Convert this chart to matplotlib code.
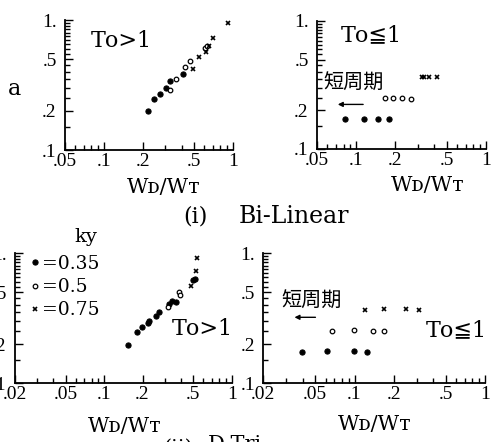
import matplotlib
matplotlib.use("Agg")
import matplotlib.pyplot as plt
from matplotlib.ticker import FixedLocator, FixedFormatter, NullFormatter

# ky legend labels
ky_labels = ["=0.35", "=0.5", "=0.75"]

# (i) Bi-Linear, To > 1
bl_long_x = [
    [0.218, 0.246, 0.272, 0.301, 0.325, 0.41],
    [0.325, 0.362, 0.427, 0.465, 0.607, 0.632],
    [0.488, 0.548, 0.618, 0.656, 0.705, 0.91],
]
bl_long_y = [
    [0.200, 0.248, 0.268, 0.298, 0.340, 0.382],
    [0.288, 0.352, 0.435, 0.484, 0.606, 0.631],
    [0.418, 0.522, 0.570, 0.631, 0.723, 0.944],
]

# (i) Bi-Linear, To <= 1
bl_short_x = [
    [0.0826, 0.1156, 0.1465, 0.178],
    [0.166, 0.191, 0.225, 0.265],
    [0.320, 0.332, 0.366, 0.417],
]
bl_short_y = [
    [0.171, 0.173, 0.173, 0.173],
    [0.250, 0.252, 0.251, 0.248],
    [0.362, 0.368, 0.366, 0.364],
]

# (ii) D-Tri, To > 1
dt_long_x = [
    [0.155, 0.180, 0.197, 0.220, 0.225, 0.254, 0.271, 0.324, 0.340, 0.364, 0.500, 0.519],
    [0.315, 0.389, 0.394],
    [0.480, 0.522, 0.538],
]
dt_long_y = [
    [0.198, 0.247, 0.269, 0.288, 0.300, 0.328, 0.350, 0.406, 0.430, 0.422, 0.620, 0.631],
    [0.385, 0.504, 0.475],
    [0.557, 0.726, 0.908],
]

# (ii) D-Tri, To <= 1
dt_short_x = [
    [0.0398, 0.0618, 0.0995, 0.124],
    [0.0668, 0.0995, 0.138, 0.169],
    [0.121, 0.169, 0.247, 0.310],
]
dt_short_y = [
    [0.174, 0.176, 0.176, 0.174],
    [0.252, 0.256, 0.253, 0.252],
    [0.366, 0.370, 0.370, 0.366],
]

x_ticks_a = [0.05, 0.1, 0.2, 0.5, 1.0]
x_labels_a = [".05", ".1", ".2", ".5", "1"]
x_ticks_b = [0.02, 0.05, 0.1, 0.2, 0.5, 1.0]
x_labels_b = [".02", ".05", ".1", ".2", ".5", "1"]
y_ticks = [0.1, 0.2, 0.5, 1.0]
y_labels = [".1", ".2", ".5", "1."]

SERIF = ["DejaVu Serif", "DejaVu Sans", "Noto Sans CJK JP"]
TIMES = ["Liberation Serif", "DejaVu Serif"]
CJK = ["Noto Sans CJK JP", "DejaVu Sans"]
STYLES = [
    dict(marker="o", ms=3.7, mfc="black", mec="black", mew=0.8),
    dict(marker="o", ms=3.3, mfc="white", mec="black", mew=0.9),
    dict(marker="x", ms=3.0, mfc="none", mec="black", mew=1.2),
]

plt.rcParams["font.family"] = SERIF

fig = plt.figure(figsize=(4.93, 4.42), dpi=100)


def make_axes(rect, xmin, xticks, xlabels):
    ax = fig.add_axes(rect)
    ax.set_xscale("log")
    ax.set_yscale("log")
    ax.set_xlim(xmin, 1.0)
    ax.set_ylim(0.1, 1.0)
    for s in ("top", "right"):
        ax.spines[s].set_visible(False)
    for s in ("left", "bottom"):
        ax.spines[s].set_linewidth(1.3)
    ax.xaxis.set_major_locator(FixedLocator(xticks))
    ax.xaxis.set_major_formatter(FixedFormatter(xlabels))
    xminor = []
    for dec in (0.01, 0.1):
        for m in range(2, 10):
            v = m * dec
            if xmin < v < 1.0 and v not in xticks:
                xminor.append(v)
    ax.xaxis.set_minor_locator(FixedLocator(xminor))
    ax.xaxis.set_minor_formatter(NullFormatter())
    ax.yaxis.set_major_locator(FixedLocator(y_ticks))
    ax.yaxis.set_major_formatter(FixedFormatter(y_labels))
    ax.yaxis.set_minor_locator(FixedLocator([0.3, 0.4, 0.6, 0.7, 0.8, 0.9,
                                             0.15, 0.25, 0.35, 0.45, 0.55, 0.65, 0.75, 0.85, 0.95]))
    ax.yaxis.set_minor_formatter(NullFormatter())
    ax.tick_params(which="both", direction="in", width=1.0)
    ax.tick_params(which="major", length=6)
    ax.tick_params(which="minor", length=3.5)
    ax.tick_params(axis="x", pad=2)
    ax.tick_params(axis="y", pad=6)
    for lab in ax.get_xticklabels() + ax.get_yticklabels():
        lab.set_family(TIMES)
        lab.set_fontsize(14)
    return ax


def draw(ax, xs, ys):
    for x, y, st in zip(xs, ys, STYLES):
        ax.plot(x, y, ls="none", **st)


xlab = "W\u1d05/W\u1d1b"

ax1 = make_axes([0.1318, 0.6606, 0.3408, 0.2941], 0.05, x_ticks_a, x_labels_a)
draw(ax1, bl_long_x, bl_long_y)
ax1.text(0.333, 0.838, "T\u1d0f>1", transform=ax1.transAxes, ha="center", va="center", fontsize=16)
ax1.text(-0.298, 0.469, "a", transform=ax1.transAxes, ha="center", va="center", fontsize=16)
ax1.text(0.585, -0.29, xlab, transform=ax1.transAxes, ha="center", va="center", fontsize=15)

ax2 = make_axes([0.643, 0.6629, 0.3428, 0.2896], 0.05, x_ticks_a, x_labels_a)
draw(ax2, bl_short_x, bl_short_y)
ax2.text(0.32, 0.89, "T\u1d0f\u22661", transform=ax2.transAxes, ha="center", va="center", fontsize=16)
ax2.text(0.219, 0.516, "短周期", transform=ax2.transAxes, ha="center", va="center",
         fontsize=14.5, family=CJK)
ax2.annotate("", xy=(0.0688, 0.223), xytext=(0.119, 0.223),
             arrowprops=dict(arrowstyle="-|>", lw=1.0, color="black", mutation_scale=7))
ax2.text(0.657, -0.289, xlab, transform=ax2.transAxes, ha="center", va="center", fontsize=15)

ax3 = make_axes([0.0304, 0.1328, 0.4396, 0.2948], 0.02, x_ticks_b, x_labels_b)
draw(ax3, dt_long_x, dt_long_y)
ax3.text(0.863, 0.417, "T\u1d0f>1", transform=ax3.transAxes, ha="center", va="center", fontsize=16)
ax3.text(0.328, 1.123, "ky", transform=ax3.transAxes, ha="center", va="center", fontsize=14)
ax3.text(0.508, -0.335, xlab, transform=ax3.transAxes, ha="center", va="center", fontsize=15)
handles = [plt.Line2D([], [], ls="none", **st) for st in STYLES]
ax3.legend(handles, ky_labels, loc="upper left", bbox_to_anchor=(0.06, 1.0), frameon=False,
           fontsize=13.5, handlelength=0.5, handletextpad=0.15, labelspacing=0.28,
           borderpad=0.1, borderaxespad=0.0)

ax4 = make_axes([0.5341, 0.1328, 0.4497, 0.2948], 0.02, x_ticks_b, x_labels_b)
draw(ax4, dt_short_x, dt_short_y)
ax4.text(0.869, 0.409, "T\u1d0f\u22661", transform=ax4.transAxes, ha="center", va="center", fontsize=16)
ax4.text(0.217, 0.632, "短周期", transform=ax4.transAxes, ha="center", va="center",
         fontsize=14.5, family=CJK)
ax4.annotate("", xy=(0.033, 0.321), xytext=(0.0527, 0.321),
             arrowprops=dict(arrowstyle="-|>", lw=1.0, color="black", mutation_scale=7))
ax4.text(0.504, -0.32, xlab, transform=ax4.transAxes, ha="center", va="center", fontsize=15)

fig.text(0.396, 0.51, "(i)", ha="center", va="center", fontsize=16)
fig.text(0.596, 0.51, "Bi-Linear", ha="center", va="center", fontsize=17)
fig.text(0.361, -0.027, "(ii)", ha="center", va="baseline", fontsize=15)
fig.text(0.477, -0.018, "D-Tri", ha="center", va="baseline", fontsize=15)

fig.savefig("out.png", dpi=100)
